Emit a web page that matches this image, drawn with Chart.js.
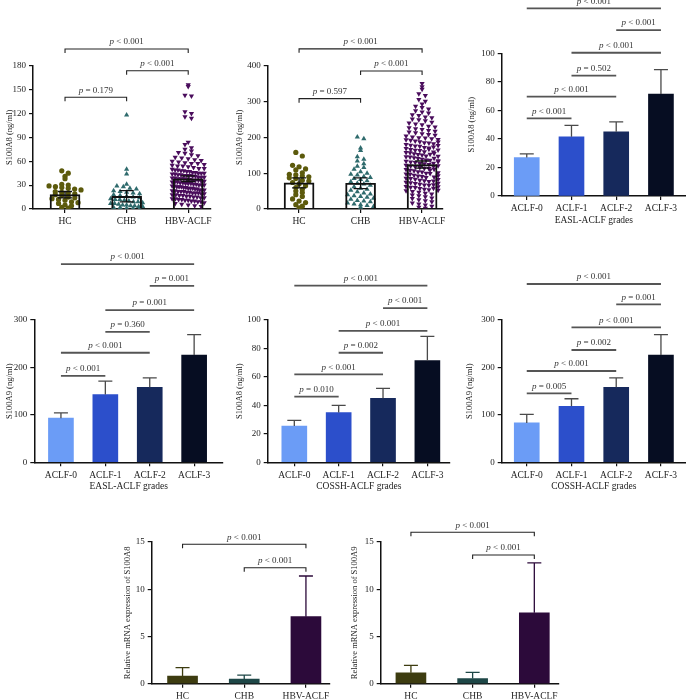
<!DOCTYPE html>
<html>
<head>
<meta charset="utf-8">
<script src="https://cdn.jsdelivr.net/npm/chart.js@4.4.1/dist/chart.umd.min.js"></script>
<style>
  body { margin: 0; background: #fff; }
  #wrap { position: relative; width: 686px; height: 699px; overflow: hidden; }
  canvas { position: absolute; }
</style>
</head>
<body>
<div id="wrap"></div>
<script>
// categories
const groups = ['HC', 'CHB', 'HBV-ACLF'];
const grades = ['ACLF-0', 'ACLF-1', 'ACLF-2', 'ACLF-3'];

// serum S100A8 per patient (ng/ml)
const a8HC = [48, 45, 41, 38, 31, 30, 29, 28, 27, 26, 25, 24, 22, 21, 20, 19, 18, 17, 15, 14, 13, 12, 11, 9, 8, 7, 5, 4, 2, 1];
const a8CHB = [118, 50, 44, 31, 29, 28, 26, 25, 23, 22, 21, 20, 19, 18, 17, 16, 15, 14, 13, 12, 12, 11, 10, 9, 9, 8, 7, 7, 6, 5, 5, 4, 4, 3, 3, 2, 2, 1, 1, 0.5];
const a8ACLF = [156, 154, 143, 142, 122, 120, 116, 114, 84, 81, 77, 75, 73, 71, 70, 68, 67, 65, 64, 63, 62, 61, 60, 59, 58, 57, 57, 56,
  55, 54, 54, 53, 52, 51, 51, 50, 49, 49, 48, 48, 47, 47, 46, 46, 45, 45, 45, 44, 44, 43, 43, 42, 42, 42, 41, 41, 40, 40, 40, 39, 39,
  38, 38, 38, 37, 37, 36, 36, 36, 35, 35, 34, 34, 34, 33, 33, 32, 32, 32, 31, 31, 30, 30, 30, 29, 29, 28, 28, 28, 27, 27, 26, 26, 26,
  25, 25, 24, 24, 24, 23, 23, 22, 22, 22, 21, 21, 20, 20, 20, 19, 19, 18, 18, 17, 17, 16, 16, 15, 15, 14, 14, 13, 13, 12, 12, 11, 11,
  10, 10, 9, 9, 8, 7, 6, 5, 4, 3];
const a8Mean = [18, 16, 38];
const a8Sem = [4, 7, 3.5];

// serum S100A9 per patient (ng/ml)
const a9HC = [158, 148, 122, 118, 112, 109, 101, 97, 95, 92, 90, 87, 85, 80, 78, 74, 70, 65, 60, 55, 50, 46, 40, 35, 28, 22, 18, 12, 8, 3];
const a9CHB = [201, 196, 170, 163, 146, 139, 134, 126, 119, 116, 111, 104, 100, 97, 95, 91, 88, 85, 82, 79, 76, 72, 70, 66, 62, 58,
  55, 52, 48, 45, 42, 40, 37, 35, 33, 30, 27, 24, 22, 20, 17, 14, 12, 10, 7, 5];
const a9ACLF = [350, 341, 334, 322, 317, 306, 301, 293, 287, 283, 279, 274, 271, 268, 263, 261, 257, 255, 251, 249, 246, 242, 240,
  237, 235, 231, 229, 227, 224, 222, 219, 217, 215, 213, 210, 208, 206, 204, 201, 199, 198, 196, 193, 192, 190, 188, 185, 184, 182,
  180, 178, 176, 175, 172, 170, 169, 166, 164, 163, 160, 158, 157, 154, 152, 151, 148, 146, 145, 143, 141, 139, 137, 136, 133, 131,
  130, 127, 126, 124, 122, 120, 118, 116, 114, 113, 110, 108, 107, 104, 103, 100, 98, 97, 94, 92, 91, 88, 86, 85, 83, 80, 79, 77, 75,
  73, 71, 69, 67, 66, 63, 61, 60, 57, 55, 54, 51, 49, 47, 44, 42, 39, 37, 34, 31, 29, 26, 23, 20, 17, 14, 11, 8, 5, 2,
  173, 167, 159, 153, 142, 135, 128, 119, 109, 99, 89, 78, 68, 58, 194, 187, 177, 165, 155, 147, 132, 121, 111, 101, 93, 82, 72, 62, 52];
const a9Mean = [73, 72, 124];
const a9Sem = [14, 15, 10];

// means and upper error by grade
const easlA8 = [27, 41.5, 45, 71.5];
const easlA8Err = [29.5, 49.5, 52, 88.5];
const easlA9 = [93, 143, 158, 226];
const easlA9Err = [104, 171, 178, 269];
const cosshA8 = [25.5, 35, 45, 71.5];
const cosshA8Err = [29.5, 40, 52, 88.5];
const cosshA9 = [83, 118, 158, 226];
const cosshA9Err = [101, 134, 178, 269];

// relative mRNA expression
const mrnaA8 = [0.8, 0.5, 7.1];
const mrnaA8Err = [1.7, 0.9, 11.4];
const mrnaA9 = [1.15, 0.55, 7.5];
const mrnaA9Err = [1.95, 1.2, 12.8];

// p values
const pA8 = ['p = 0.179', 'p < 0.001', 'p < 0.001'];
const pA9 = ['p = 0.597', 'p < 0.001', 'p < 0.001'];
const pEaslA8 = ['p < 0.001', 'p < 0.001', 'p = 0.502', 'p < 0.001', 'p < 0.001', 'p < 0.001'];
const pEaslA9 = ['p < 0.001', 'p < 0.001', 'p = 0.360', 'p = 0.001', 'p = 0.001', 'p < 0.001'];
const pCosshA8 = ['p = 0.010', 'p < 0.001', 'p = 0.002', 'p < 0.001', 'p < 0.001', 'p < 0.001'];
const pCosshA9 = ['p = 0.005', 'p < 0.001', 'p = 0.002', 'p < 0.001', 'p = 0.001', 'p < 0.001'];
const pMrnaA8 = ['p < 0.001', 'p < 0.001'];
const pMrnaA9 = ['p < 0.001', 'p < 0.001'];

const gradeColors = ['#6b9cf6', '#2c4fcb', '#16295c', '#060d22'];
const groupDark = ['#3d3c10', '#1e4747', '#2c0a3a'];
const SERIF = "'Liberation Serif', 'DejaVu Serif', serif";

Chart.defaults.font.family = SERIF;
Chart.defaults.color = '#222';

const wrap = document.getElementById('wrap');
const extras = {};

// Prism-like scatter: stack points in rows, spread within a row
function swarm(vals, cx, pxX, pxY) {
  const rowH = 4.2, step = 6.5, half = 16;
  const rows = new Map();
  vals.forEach(v => {
    const r = Math.round(v * pxY / rowH);
    if (!rows.has(r)) rows.set(r, []);
    rows.get(r).push(v);
  });
  const pts = [];
  rows.forEach(row => {
    const n = row.length;
    const s = n > 1 ? Math.min(step, 2 * half / (n - 1)) : 0;
    row.forEach((v, k) => pts.push({ x: cx + (k - (n - 1) / 2) * s / pxX, y: v }));
  });
  return pts;
}

function drawP(ctx, txt, cx, cy) {
  const rest = txt.slice(1);
  ctx.font = 'italic 9px ' + SERIF;
  const w1 = ctx.measureText('p').width;
  ctx.font = '9px ' + SERIF;
  const w2 = ctx.measureText(rest).width;
  const x = cx - (w1 + w2) / 2;
  ctx.textAlign = 'left';
  ctx.textBaseline = 'middle';
  ctx.fillStyle = '#333';
  ctx.font = 'italic 9px ' + SERIF;
  ctx.fillText('p', x, cy);
  ctx.font = '9px ' + SERIF;
  ctx.fillText(rest, x + w1, cy);
}

const extrasPlugin = {
  id: 'extras',
  afterDatasetsDraw(chart) {
    const p = extras[chart.canvas.id];
    const ctx = chart.ctx, xs = chart.scales.x, ys = chart.scales.y;
    ctx.save();
    p.bars.forEach((m, i) => {
      const x = xs.getPixelForValue(i);
      const top = ys.getPixelForValue(p.errHi[i]);
      const bot = ys.getPixelForValue(p.errLo ? p.errLo[i] : m);
      ctx.strokeStyle = p.errColor[i];
      ctx.lineWidth = 1.3;
      ctx.beginPath();
      ctx.moveTo(x, bot); ctx.lineTo(x, top);
      ctx.moveTo(x - 7, top); ctx.lineTo(x + 7, top);
      if (p.errLo) { ctx.moveTo(x - 7, bot); ctx.lineTo(x + 7, bot); }
      ctx.stroke();
    });
    ctx.restore();
  },
  afterDraw(chart) {
    const p = extras[chart.canvas.id];
    const ctx = chart.ctx, xs = chart.scales.x, ys = chart.scales.y;
    ctx.save();
    p.brackets.forEach((b, k) => {
      const x1 = xs.getPixelForValue(b[0]), x2 = xs.getPixelForValue(b[1]);
      const y = ys.getPixelForValue(b[2]);
      ctx.beginPath();
      if (p.legs) {
        ctx.strokeStyle = '#222'; ctx.lineWidth = 1.1;
        ctx.moveTo(x1, y + 4); ctx.lineTo(x1, y); ctx.lineTo(x2, y); ctx.lineTo(x2, y + 4);
      } else {
        ctx.strokeStyle = '#555'; ctx.lineWidth = 1.8;
        ctx.moveTo(x1, y); ctx.lineTo(x2, y);
      }
      ctx.stroke();
      drawP(ctx, p.pvals[k], (x1 + x2) / 2, y - 7);
    });
    ctx.restore();
  }
};

function makePanel(p) {
  const c = document.createElement('canvas');
  c.id = p.id;
  c.width = p.box[2]; c.height = p.box[3];
  c.style.left = p.box[0] + 'px'; c.style.top = p.box[1] + 'px';
  wrap.appendChild(c);
  const [L, R, T, B] = p.plot;
  const pxX = (R - L) / (p.xr[1] - p.xr[0]);
  const pxY = (B - T) / p.yMax;
  // outlined (white) bars sit over the dots so their edge stays visible
  const datasets = [{
    type: 'bar', order: p.outline ? 0 : 2,
    data: p.bars.map((v, i) => ({ x: i, y: v })),
    backgroundColor: p.fill,
    borderColor: p.outline ? '#111' : 'rgba(0,0,0,0)',
    borderWidth: p.outline ? 1.3 : 0,
    barThickness: p.barW
  }];
  (p.dots || []).forEach((d, i) => datasets.push({
    type: 'scatter', order: 1,
    data: swarm(d.vals, i, pxX, pxY),
    pointStyle: d.style, rotation: d.rot || 0,
    pointRadius: d.style === 'circle' ? 2.6 : 3,
    backgroundColor: d.color, borderColor: d.color, borderWidth: 0
  }));
  extras[p.id] = p;
  const grid = { drawOnChartArea: false, tickLength: 4, color: '#111', lineWidth: 1.2, offset: false };
  const border = { color: '#111', width: 1.5 };
  new Chart(c, {
    type: 'bar',
    data: { datasets },
    options: {
      responsive: false, animation: false, devicePixelRatio: 1,
      layout: { padding: {
        left: L - p.box[0] - p.yw,
        right: p.box[0] + p.box[2] - R,
        top: T - p.box[1],
        bottom: p.box[1] + p.box[3] - B - p.xh
      } },
      plugins: { legend: { display: false }, tooltip: { enabled: false } },
      scales: {
        x: {
          type: 'linear', min: p.xr[0], max: p.xr[1], offset: false,
          afterBuildTicks: s => { s.ticks = p.labels.map((_, i) => ({ value: i })); },
          afterFit: s => { s.height = p.xh; },
          ticks: { callback: v => p.labels[v], autoSkip: false, maxRotation: 0, padding: 3, font: { size: 9.5 }, color: '#222' },
          grid, border,
          title: { display: !!p.xTitle, text: p.xTitle || '', padding: 0, font: { size: 9.5 }, color: '#222' }
        },
        y: {
          min: 0, max: p.yMax,
          afterFit: s => { s.width = p.yw; },
          ticks: { stepSize: p.yStep, padding: 3, font: { size: 9 }, color: '#222' },
          grid, border,
          title: { display: true, text: p.yTitle, padding: 0, font: { size: 8.5 }, color: '#222' }
        }
      }
    },
    plugins: [extrasPlugin]
  });
}

const black3 = ['#111', '#111', '#111'];
const grey4 = ['#4a4a4a', '#4a4a4a', '#4a4a4a', '#4a4a4a'];

makePanel({
  id: 'pA', box: [0, 30, 228, 200], plot: [33, 211, 65.7, 209], yw: 28, xh: 20, xr: [-0.52, 2.37],
  yMax: 180, yStep: 30, yTitle: 'S100A8 (ng/ml)', labels: groups,
  bars: a8Mean, errHi: a8Mean.map((m, i) => m + a8Sem[i]), errLo: a8Mean.map((m, i) => m - a8Sem[i]),
  errColor: black3, fill: 'rgba(255,255,255,0)', outline: true, barW: 30,
  dots: [
    { vals: a8HC, style: 'circle', color: '#5c5a0c' },
    { vals: a8CHB, style: 'triangle', color: '#2f6b6d' },
    { vals: a8ACLF, style: 'triangle', rot: 180, color: '#4a0d5c' }
  ],
  legs: true, brackets: [[0, 1, 140.3], [1, 2, 173.7], [0, 2, 201]], pvals: pA8
});

makePanel({
  id: 'pB', box: [230, 30, 226, 200], plot: [267.7, 443, 65.7, 209], yw: 33, xh: 20, xr: [-0.51, 2.34],
  yMax: 400, yStep: 100, yTitle: 'S100A9 (ng/ml)', labels: groups,
  bars: a9Mean, errHi: a9Mean.map((m, i) => m + a9Sem[i]), errLo: a9Mean.map((m, i) => m - a9Sem[i]),
  errColor: black3, fill: 'rgba(255,255,255,0)', outline: true, barW: 30,
  dots: [
    { vals: a9HC, style: 'circle', color: '#5c5a0c' },
    { vals: a9CHB, style: 'triangle', color: '#2f6b6d' },
    { vals: a9ACLF, style: 'triangle', rot: 180, color: '#4a0d5c' }
  ],
  legs: true, brackets: [[0, 1, 308], [1, 2, 385], [0, 2, 447]], pvals: pA9
});

makePanel({
  id: 'pC', box: [456, 0, 230, 232], plot: [501.7, 686, 53.3, 196], yw: 35, xh: 30, xr: [-0.56, 3.56],
  yMax: 100, yStep: 20, yTitle: 'S100A8 (ng/ml)', xTitle: 'EASL-ACLF grades', labels: grades,
  bars: easlA8, errHi: easlA8Err, errColor: grey4, fill: gradeColors, barW: 25,
  brackets: [[0, 1, 54.4], [0, 2, 69.6], [1, 2, 84.3], [1, 3, 100.4], [2, 3, 116.3], [0, 3, 131.5]], pvals: pEaslA8
});

makePanel({
  id: 'pD', box: [0, 245, 228, 250], plot: [34.3, 223, 320, 462.3], yw: 30, xh: 30, xr: [-0.6, 3.65],
  yMax: 300, yStep: 100, yTitle: 'S100A9 (ng/ml)', xTitle: 'EASL-ACLF grades', labels: grades,
  bars: easlA9, errHi: easlA9Err, errColor: grey4, fill: gradeColors, barW: 25,
  brackets: [[0, 1, 182], [0, 2, 231], [1, 2, 275], [1, 3, 321], [2, 3, 372], [0, 3, 418]], pvals: pEaslA9
});

makePanel({
  id: 'pE', box: [230, 245, 226, 250], plot: [267.7, 450, 320, 462.3], yw: 32.7, xh: 30, xr: [-0.6, 3.51],
  yMax: 100, yStep: 20, yTitle: 'S100A8 (ng/ml)', xTitle: 'COSSH-ACLF grades', labels: grades,
  bars: cosshA8, errHi: cosshA8Err, errColor: grey4, fill: gradeColors, barW: 25,
  brackets: [[0, 1, 46.1], [0, 2, 61.8], [1, 2, 77], [1, 3, 92.3], [2, 3, 108.4], [0, 3, 124.1]], pvals: pCosshA8
});

makePanel({
  id: 'pF', box: [456, 245, 230, 250], plot: [501.7, 686, 320, 462.3], yw: 36.7, xh: 30, xr: [-0.56, 3.56],
  yMax: 300, yStep: 100, yTitle: 'S100A9 (ng/ml)', xTitle: 'COSSH-ACLF grades', labels: grades,
  bars: cosshA9, errHi: cosshA9Err, errColor: grey4, fill: gradeColors, barW: 25,
  brackets: [[0, 1, 145.5], [0, 2, 192.5], [1, 2, 236.8], [1, 3, 284.6], [2, 3, 333.1], [0, 3, 375.9]], pvals: pCosshA9
});

makePanel({
  id: 'pG', box: [110, 505, 228, 194], plot: [151.7, 330, 542, 683.7], yw: 28.7, xh: 15, xr: [-0.5, 2.39],
  yMax: 15, yStep: 5, yTitle: 'Relative mRNA expression of S100A8', labels: groups,
  bars: mrnaA8, errHi: mrnaA8Err, errColor: groupDark, fill: groupDark, barW: 30,
  legs: true, brackets: [[1, 2, 12.28], [0, 2, 14.76]], pvals: pMrnaA8
});

makePanel({
  id: 'pH', box: [340, 505, 230, 194], plot: [380.7, 559, 542, 683.7], yw: 30.7, xh: 15, xr: [-0.49, 2.4],
  yMax: 15, yStep: 5, yTitle: 'Relative mRNA expression of S100A9', labels: groups,
  bars: mrnaA9, errHi: mrnaA9Err, errColor: groupDark, fill: groupDark, barW: 30,
  legs: true, brackets: [[1, 2, 13.62], [0, 2, 16.03]], pvals: pMrnaA9
});
</script>
</body>
</html>
